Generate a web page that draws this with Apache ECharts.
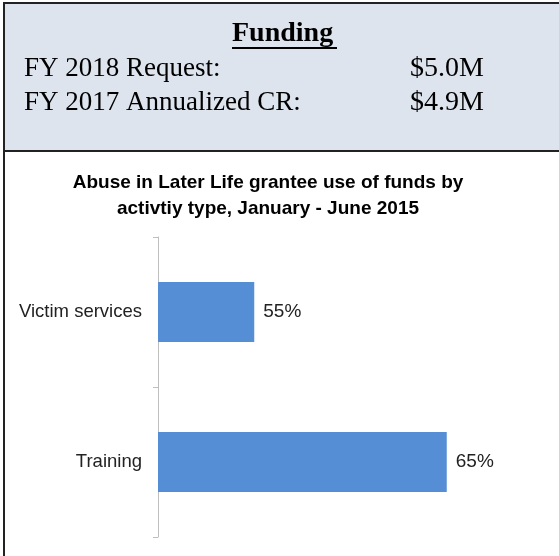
<!DOCTYPE html>
<html>
<head>
<meta charset="utf-8">
<script src="https://cdn.jsdelivr.net/npm/echarts@6/dist/echarts.min.js"></script>
<style>
  html, body { margin: 0; padding: 0; background: #fff; }
  #chart { width: 559px; height: 556px; }
</style>
</head>
<body>
<div id="chart"></div>
<script>
    // data
    var categories = ['Victim services', 'Training'];
    var values = [55, 65];
    var fundingRows = ['FY 2018 Request:', 'FY 2017 Annualized CR:'];
    var fundingAmounts = ['$5.0M', '$4.9M'];

    var myChart = echarts.init(document.getElementById('chart'));

    var serif = '"Liberation Serif", "Times New Roman", serif';
    var sans = '"Liberation Sans", Arial, sans-serif';

    var graphics = [
        // funding box
        { type: 'rect', shape: { x: 4, y: 3, width: 570, height: 148 },
          style: { fill: '#dde4ee', stroke: '#222', lineWidth: 2 }, z: 0 },
        // chart box border
        { type: 'rect', shape: { x: 4, y: 151, width: 570, height: 420 },
          style: { fill: 'none', stroke: '#222', lineWidth: 2 }, z: 0 },
        { type: 'text', left: 232, top: 20,
          style: { text: 'Funding', font: 'bold 28px ' + serif, fill: '#000' } },
        { type: 'line', shape: { x1: 232, y1: 48, x2: 337, y2: 48 },
          style: { stroke: '#000', lineWidth: 2 } },
        // chart title
        { type: 'text', x: 268, y: 170,
          style: { text: 'Abuse in Later Life grantee use of funds by\nactivtiy type, January - June 2015',
                   font: 'bold 19px ' + sans, lineHeight: 26, align: 'center', fill: '#000' } }
    ];
    fundingRows.forEach(function (r, i) {
        graphics.push({ type: 'text', left: 24, top: 55 + i * 34,
            style: { text: r, font: '27px ' + serif, fill: '#000' } });
        graphics.push({ type: 'text', left: 410, top: 55 + i * 34,
            style: { text: fundingAmounts[i], font: '28px ' + serif, fill: '#000' } });
    });

    option = {
        animation: false,
        graphic: graphics,
        grid: { left: 158, right: 16, top: 237, bottom: 19 },
        xAxis: {
            type: 'value',
            min: 50,
            max: 70,
            show: false
        },
        yAxis: {
            type: 'category',
            inverse: true,
            data: categories,
            axisLine: { lineStyle: { color: '#bfbfbf', width: 1 } },
            axisTick: { show: true, length: 5, lineStyle: { color: '#bfbfbf' } },
            axisLabel: {
                margin: 16,
                fontFamily: sans,
                fontSize: 18.5,
                color: '#222'
            }
        },
        series: [
            {
                type: 'bar',
                data: values,
                barCategoryGap: '60%',
                itemStyle: { color: '#558ed5' },
                label: {
                    show: true,
                    position: 'right',
                    distance: 9,
                    formatter: '{c}%',
                    fontFamily: sans,
                    fontSize: 19,
                    color: '#222'
                }
            }
        ]
    };

    myChart.setOption(option);
</script>
</body>
</html>
